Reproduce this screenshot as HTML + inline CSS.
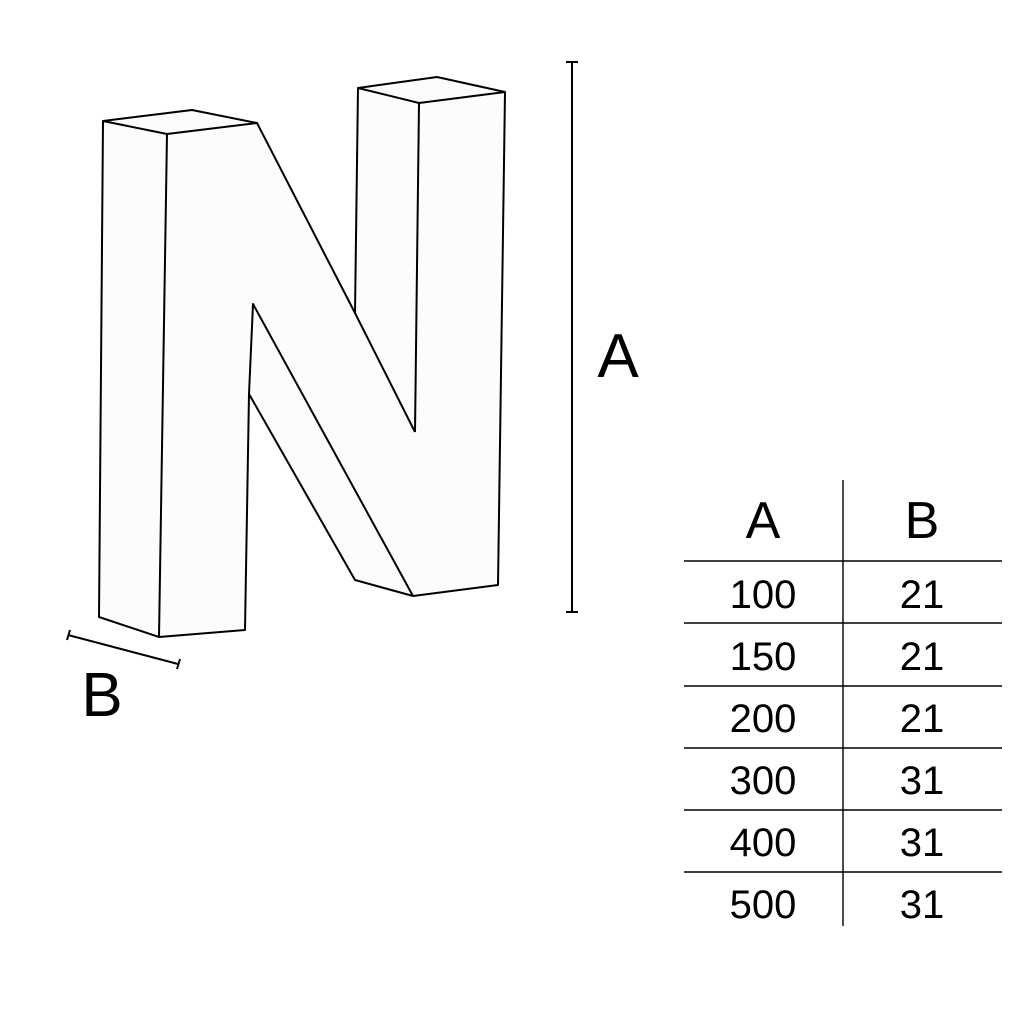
<!DOCTYPE html>
<html><head><style>body{margin:0;background:#fff}svg{display:block}</style></head><body>
<svg width="1024" height="1024" viewBox="0 0 1024 1024" xmlns="http://www.w3.org/2000/svg" font-family="Liberation Sans, sans-serif">
<g fill="#fcfcfc" stroke="#000" stroke-width="2" stroke-linejoin="round">
<polygon points="103,121 192,110 257,123 355,313 358,88 437,77 505,92 498,585 413,596 355,580 249,394 245,630 159,637 99,617"/>
<polyline fill="none" points="103,121 167,134 257,123"/>
<line x1="167" y1="134" x2="159" y2="637"/>
<polyline fill="none" points="358,88 419,103 505,92"/>
<line x1="419" y1="103" x2="415" y2="432"/>
<line x1="355" y1="313" x2="415" y2="432"/>
<polyline fill="none" points="249,394 253,304 413,596"/>
</g>
<g stroke="#000" stroke-width="2">
<line x1="572" y1="62" x2="572" y2="612"/><line x1="566" y1="62" x2="578" y2="62"/><line x1="566" y1="612" x2="578" y2="612"/>
<line x1="68" y1="635" x2="178" y2="664"/><line x1="70" y1="630" x2="67" y2="640"/><line x1="180" y1="659" x2="177" y2="669"/>
</g>
<text x="618" y="377" font-size="62" text-anchor="middle">A</text>
<text x="102" y="716" font-size="62" text-anchor="middle">B</text>
<g stroke="#000" stroke-width="1.4">
<line x1="843" y1="480" x2="843" y2="926"/>
<line x1="684" y1="561" x2="1002" y2="561"/><line x1="684" y1="623" x2="1002" y2="623"/><line x1="684" y1="686" x2="1002" y2="686"/><line x1="684" y1="748" x2="1002" y2="748"/><line x1="684" y1="810" x2="1002" y2="810"/><line x1="684" y1="872" x2="1002" y2="872"/>
</g>
<g text-anchor="middle">
<text x="763" y="538" font-size="52">A</text><text x="922" y="538" font-size="52">B</text>
<g font-size="40">
<text x="763" y="608">100</text><text x="922" y="608">21</text>
<text x="763" y="670">150</text><text x="922" y="670">21</text>
<text x="763" y="732">200</text><text x="922" y="732">21</text>
<text x="763" y="794">300</text><text x="922" y="794">31</text>
<text x="763" y="856">400</text><text x="922" y="856">31</text>
<text x="763" y="918">500</text><text x="922" y="918">31</text>
</g></g>
</svg>
</body></html>
